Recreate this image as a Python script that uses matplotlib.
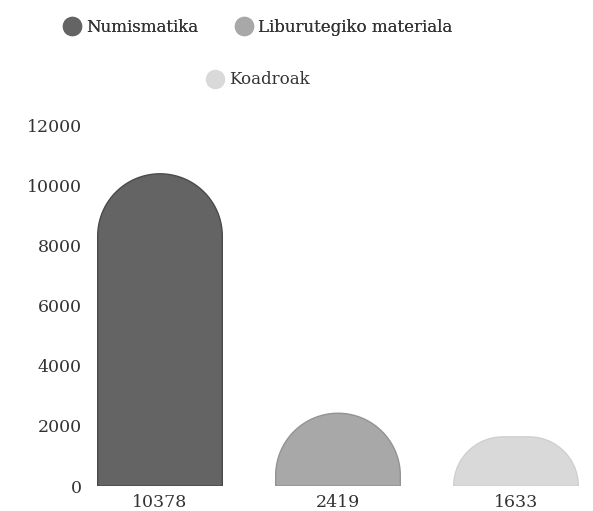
import matplotlib
matplotlib.use("Agg")
import matplotlib.pyplot as plt
from matplotlib.path import Path
from matplotlib.patches import PathPatch
from matplotlib.lines import Line2D
import numpy as np

categories = ["Numismatika", "Liburutegiko materiala", "Koadroak"]
values = [10378, 2419, 1633]
tick_labels = ["10378", "2419", "1633"]
colors = ["#646464", "#a8a8a8", "#d9d9d9"]
edge_colors = ["#4a4a4a", "#939393", "#cfcfcf"]
yticks = [0, 2000, 4000, 6000, 8000, 10000, 12000]

plt.rcParams['font.family'] = ['DejaVu Serif']

W, H = 593, 511
fig = plt.figure(figsize=(W / 100, H / 100), dpi=100)
ax_l, ax_r, ax_b, ax_t = 90, 590, 486, 125
ax = fig.add_axes([ax_l / W, (H - ax_b) / H, (ax_r - ax_l) / W, (ax_b - ax_t) / H])
ax.set_ylim(0, 12000)
xlo = -(160 - ax_l) / 178.0
xhi = 2 + (ax_r - 516) / 178.0
ax.set_xlim(xlo, xhi)

sx = (ax_r - ax_l) / (xhi - xlo)   # px per x unit
sy = (ax_b - ax_t) / 12000.0        # px per y unit
width = 0.7

def rounded_bar(xc, h, w):
    r_px = min(w * sx / 2, h * sy)
    rx = r_px / sx
    ry = r_px / sy
    x0, x1 = xc - w / 2, xc + w / 2
    verts = [(x0, 0), (x0, h - ry)]
    t = np.linspace(np.pi, np.pi / 2, 30)
    verts += [(x0 + rx + rx * np.cos(a), h - ry + ry * np.sin(a)) for a in t]
    t = np.linspace(np.pi / 2, 0, 30)
    verts += [(x1 - rx + rx * np.cos(a), h - ry + ry * np.sin(a)) for a in t]
    verts += [(x1, 0), (x0, 0)]
    codes = [Path.MOVETO] + [Path.LINETO] * (len(verts) - 2) + [Path.CLOSEPOLY]
    return Path(verts, codes)

for i, (v, c, ec) in enumerate(zip(values, colors, edge_colors)):
    ax.add_patch(PathPatch(rounded_bar(i, v, width), facecolor=c, edgecolor=ec, lw=1.0))

ax.set_xticks(range(len(values)))
ax.set_xticklabels(tick_labels, fontsize=12.5, color="#333333")
ax.set_yticks(yticks)
ax.set_yticklabels([str(t) for t in yticks], fontsize=12.5, color="#333333")
ax.tick_params(length=0)
ax.tick_params(axis='y', pad=6)
ax.tick_params(axis='x', pad=6)
for s in ax.spines.values():
    s.set_visible(False)

def handle(c):
    return Line2D([], [], marker='o', linestyle='', markersize=13,
                  markerfacecolor=c, markeredgecolor=c)

cx = 258 / W
leg1 = fig.legend([handle(colors[0]), handle(colors[1])], categories[:2], ncol=2,
                  loc='center', bbox_to_anchor=(cx, 1 - 27 / H), frameon=False,
                  fontsize=12, handletextpad=0.35, columnspacing=2.2, handlelength=1.0)
leg2 = fig.legend([handle(colors[2])], categories[2:], ncol=1,
                  loc='center', bbox_to_anchor=(cx, 1 - 80 / H), frameon=False,
                  fontsize=12, handletextpad=0.35, handlelength=1.0)
fig.add_artist(leg1)
for leg in (leg1, leg2):
    for t in leg.get_texts():
        t.set_color("#333333")

fig.savefig("out.png", dpi=100)
